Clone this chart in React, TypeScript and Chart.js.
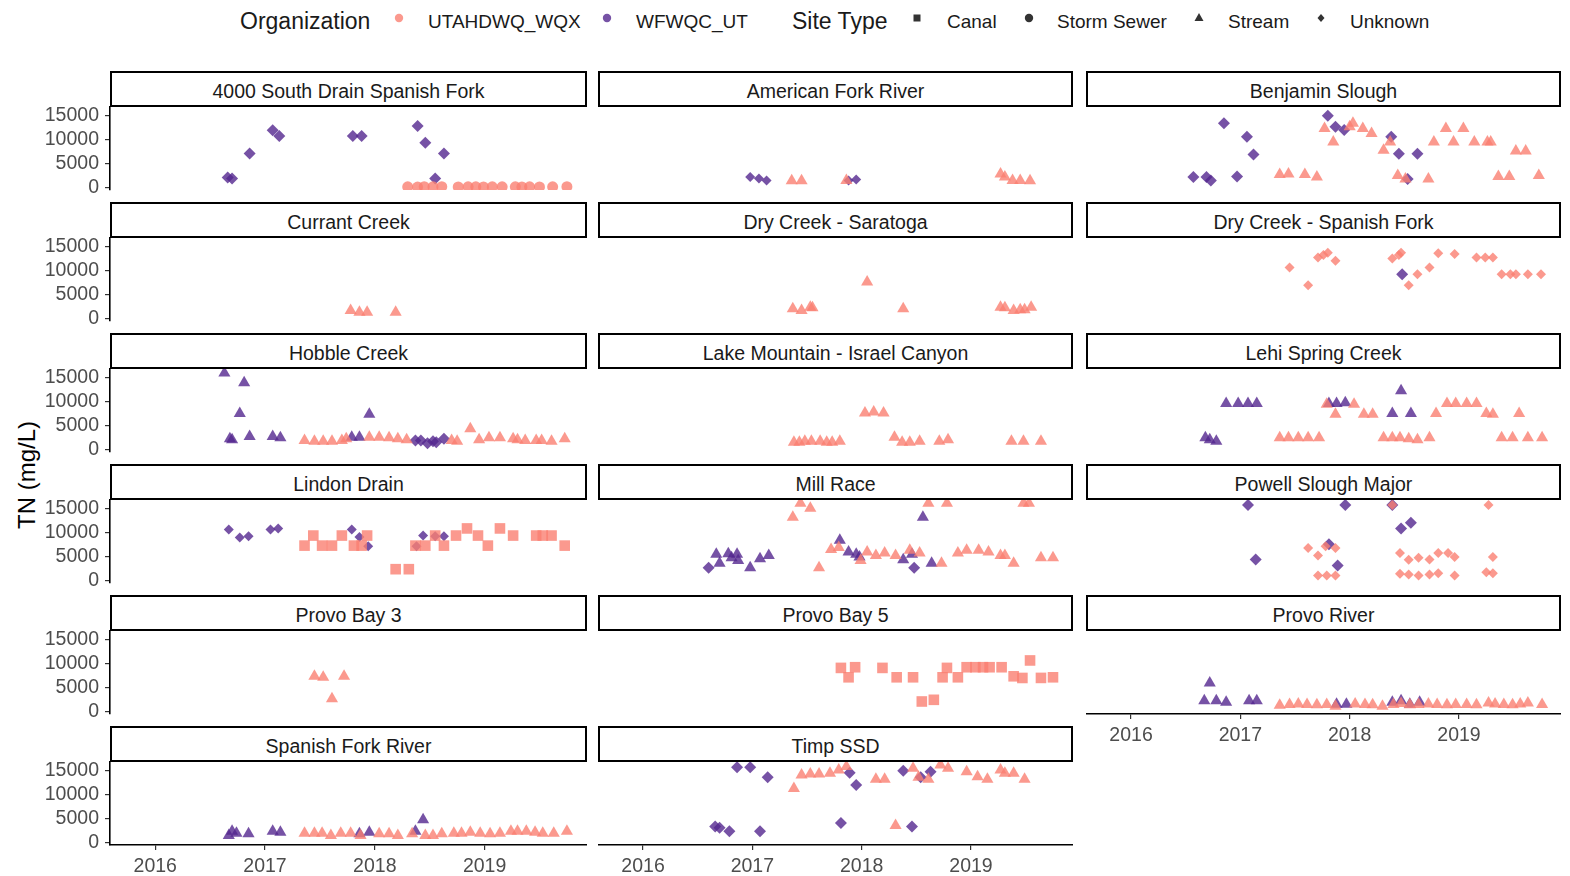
import React, { useEffect, useRef } from "react";
import { Chart, registerables } from "chart.js";

Chart.register(...registerables);

// ---- colours & fonts ----
const SALMON = "rgba(250,128,114,0.8)";
const PURPLE = "rgba(84,39,143,0.8)";
const FONT = "'Liberation Sans', Arial, sans-serif";

// ---- axis settings ----
const X_MIN = 2015.588;
const X_MAX = 2019.933;
const Y_MIN = -500;
const Y_MAX = 16750;
const X_TICKS = [2016, 2017, 2018, 2019];
const Y_TICKS = [0, 5000, 10000, 15000];

type Pt = [number, number]; // [decimal year, TN]

// ---- data: TN (mg/L) by site, organisation and site type ----
const southDrainWf: Pt[] = [
  [2016.66, 2100], [2016.7, 1900], [2016.86, 7100], [2017.07, 11900], [2017.13, 10700],
  [2017.8, 10700], [2017.88, 10700], [2018.39, 12800], [2018.46, 9300], [2018.63, 7100], [2018.55, 1900],
];
const southDrainUt: Pt[] = [
  [2018.3, 150], [2018.39, 120], [2018.45, 180], [2018.53, 150], [2018.61, 200], [2018.76, 130],
  [2018.85, 150], [2018.92, 160], [2018.99, 140], [2019.07, 170], [2019.16, 150], [2019.28, 150],
  [2019.34, 130], [2019.41, 160], [2019.5, 140], [2019.62, 150], [2019.75, 180],
];
const amForkWf: Pt[] = [[2016.98, 2200], [2017.06, 1900], [2017.13, 1500], [2017.88, 1500], [2017.95, 1700]];
const amForkUt: Pt[] = [
  [2017.36, 1400], [2017.45, 1400], [2017.86, 1500], [2019.27, 2800], [2019.31, 2200],
  [2019.38, 1500], [2019.45, 1500], [2019.54, 1400],
];
const benjaminWf: Pt[] = [
  [2016.57, 2200], [2016.69, 2200], [2016.73, 1500], [2016.97, 2300], [2016.85, 13350], [2017.06, 10550],
  [2017.12, 6900], [2017.8, 14950], [2017.87, 12650], [2017.95, 11950], [2018.38, 10550], [2018.45, 7050],
  [2018.62, 7050], [2018.53, 1800],
];
const benjaminUt: Pt[] = [
  [2017.36, 2700], [2017.44, 2850], [2017.59, 2700], [2017.7, 2200], [2017.77, 12300], [2017.85, 9500],
  [2018.0, 12650], [2018.03, 13350], [2018.12, 12300], [2018.2, 11250], [2018.31, 7750], [2018.37, 9500],
  [2018.44, 2500], [2018.51, 1800], [2018.72, 1800], [2018.77, 9500], [2018.88, 12300], [2018.95, 9500],
  [2019.04, 12300], [2019.14, 9500], [2019.26, 9500], [2019.29, 9500], [2019.36, 2300], [2019.46, 2300],
  [2019.52, 7600], [2019.61, 7600], [2019.73, 2500],
];
const currantUt: Pt[] = [[2017.78, 1700], [2017.86, 1300], [2017.93, 1300], [2018.19, 1300]];
const drySaratogaUt: Pt[] = [
  [2017.37, 2030], [2017.45, 1680], [2017.53, 2370], [2017.55, 2240], [2018.05, 7600], [2018.38, 2030],
  [2019.27, 2370], [2019.31, 2240], [2019.39, 1680], [2019.45, 1820], [2019.49, 1820], [2019.55, 2370],
];
const drySpanishUt: Pt[] = [
  [2017.45, 10630], [2017.62, 6920], [2017.71, 12720], [2017.76, 13200], [2017.8, 13700], [2017.87, 12000],
  [2018.39, 12500], [2018.45, 13200], [2018.47, 13700], [2018.54, 6920], [2018.62, 9220], [2018.73, 10630],
  [2018.81, 13560], [2018.96, 13420], [2019.16, 12720], [2019.24, 12720], [2019.31, 12720], [2019.39, 9220],
  [2019.47, 9220], [2019.52, 9220], [2019.63, 9220], [2019.75, 9220],
];
const drySpanishWf: Pt[] = [[2018.48, 9220]];
const hobbleWfStream: Pt[] = [
  [2016.63, 15900], [2016.68, 2240], [2016.7, 2030], [2016.81, 13900], [2016.77, 7480], [2016.86, 2720],
  [2017.07, 2720], [2017.14, 2440], [2017.79, 2580], [2017.86, 2580], [2017.95, 7340],
];
const hobbleWfUnknown: Pt[] = [
  [2018.37, 1890], [2018.42, 1890], [2018.48, 1330], [2018.53, 1750], [2018.56, 1540], [2018.63, 2240],
];
const hobbleUt: Pt[] = [
  [2017.36, 1890], [2017.45, 1750], [2017.53, 1750], [2017.61, 1750], [2017.7, 1890], [2017.74, 2240],
  [2017.95, 2580], [2018.04, 2580], [2018.13, 2440], [2018.21, 2240], [2018.29, 2030], [2018.7, 1890],
  [2018.75, 1750], [2018.87, 4330], [2018.95, 2030], [2019.04, 2440], [2019.14, 2440], [2019.26, 2240],
  [2019.3, 2030], [2019.37, 1890], [2019.47, 1890], [2019.52, 1890], [2019.61, 1750], [2019.73, 2240],
];
const lakeMtnUt: Pt[] = [
  [2017.38, 1540], [2017.43, 1540], [2017.48, 1750], [2017.54, 1750], [2017.62, 1750], [2017.68, 1540],
  [2017.73, 1540], [2017.8, 1750], [2018.03, 7620], [2018.11, 7830], [2018.2, 7620], [2018.3, 2580],
  [2018.37, 1540], [2018.44, 1540], [2018.53, 1750], [2018.71, 1750], [2018.79, 2030], [2019.37, 1750],
  [2019.48, 1750], [2019.64, 1750],
];
const lehiWf: Pt[] = [
  [2016.68, 2450], [2016.72, 2030], [2016.78, 1750], [2016.87, 9580], [2016.98, 9580], [2017.07, 9580],
  [2017.15, 9580], [2017.81, 9580], [2017.88, 9580], [2017.96, 9710], [2018.47, 12230], [2018.39, 7480],
  [2018.56, 7480],
];
const lehiUt: Pt[] = [
  [2017.36, 2450], [2017.44, 2450], [2017.53, 2450], [2017.62, 2450], [2017.72, 2450], [2017.79, 9400],
  [2018.04, 9400], [2017.87, 7340], [2018.13, 7340], [2018.21, 7340], [2018.31, 2450], [2018.39, 2450],
  [2018.46, 2450], [2018.54, 2240], [2018.62, 2030], [2018.73, 2450], [2018.79, 7480], [2018.89, 9580],
  [2018.97, 9580], [2019.07, 9580], [2019.16, 9580], [2019.25, 7480], [2019.31, 7340], [2019.55, 7480],
  [2019.39, 2450], [2019.49, 2450], [2019.63, 2450], [2019.76, 2450],
];
const lindonWf: Pt[] = [
  [2016.67, 10630], [2016.77, 8950], [2016.85, 9220], [2017.05, 10630], [2017.12, 10840], [2017.79, 10630],
  [2017.86, 9080], [2017.94, 7130], [2018.38, 7130], [2018.44, 9360], [2018.55, 9220], [2018.63, 9220],
];
const lindonUt: Pt[] = [
  [2017.36, 7270], [2017.44, 9360], [2017.52, 7270], [2017.61, 7270], [2017.7, 9360], [2017.81, 7270],
  [2017.88, 7270], [2017.93, 9360], [2018.19, 2370], [2018.31, 2370], [2018.37, 7270], [2018.46, 7270],
  [2018.55, 9360], [2018.63, 7270], [2018.74, 9360], [2018.84, 10840], [2018.94, 9360], [2019.03, 7270],
  [2019.14, 10840], [2019.26, 9360], [2019.47, 9360], [2019.53, 9360], [2019.61, 9360], [2019.73, 7270],
];
const millWfStream: Pt[] = [
  [2016.67, 5450], [2016.78, 5590], [2016.86, 5450], [2016.7, 3630], [2016.81, 4760], [2016.87, 4190],
  [2016.98, 2660], [2017.07, 4540], [2017.15, 5240], [2017.8, 8390], [2017.88, 5940], [2017.95, 5450],
  [2017.98, 4890], [2018.38, 4330], [2018.46, 5450], [2018.56, 13140], [2018.64, 3630],
];
const millWfUnknown: Pt[] = [[2016.6, 2660], [2018.48, 2660]];
const millUt: Pt[] = [
  [2017.37, 13140], [2017.44, 16080], [2017.53, 15030], [2017.61, 2660], [2017.72, 6440], [2017.79, 6860],
  [2017.99, 4190], [2018.05, 5940], [2018.13, 5240], [2018.21, 5730], [2018.31, 5240], [2018.44, 6290],
  [2018.53, 5730], [2018.61, 16080], [2018.78, 16080], [2018.73, 3630], [2018.88, 5730], [2018.96, 6290],
  [2019.07, 6290], [2019.16, 5940], [2019.27, 5240], [2019.31, 5240], [2019.39, 3630], [2019.48, 16080],
  [2019.53, 16080], [2019.64, 4760], [2019.75, 4760],
];
const powellWf: Pt[] = [
  [2017.07, 15720], [2017.14, 4400], [2017.81, 7550], [2017.89, 3140], [2017.96, 15720], [2018.39, 15720],
  [2018.47, 10840], [2018.56, 12020],
];
const powellUt: Pt[] = [
  [2017.62, 6780], [2017.71, 5240], [2017.78, 7130], [2017.87, 6780], [2017.71, 1050], [2017.79, 1050],
  [2017.87, 1050], [2018.39, 15720], [2018.46, 5730], [2018.54, 4330], [2018.63, 4760], [2018.73, 4400],
  [2018.81, 5730], [2018.9, 5730], [2018.96, 4890], [2018.46, 1400], [2018.54, 1260], [2018.63, 1050],
  [2018.73, 1260], [2018.81, 1540], [2018.96, 1050], [2019.27, 15720], [2019.31, 4890], [2019.25, 1750],
  [2019.31, 1540],
];
const provoBay3Ut: Pt[] = [[2017.45, 7340], [2017.53, 7130], [2017.61, 2660], [2017.72, 7340]];
const provoBay5Ut: Pt[] = [
  [2017.81, 9080], [2017.88, 7130], [2017.94, 9220], [2018.19, 9080], [2018.32, 7130], [2018.47, 7130],
  [2018.55, 2100], [2018.66, 2450], [2018.74, 7130], [2018.78, 9080], [2018.88, 7130], [2018.96, 9220],
  [2019.04, 9220], [2019.11, 9220], [2019.17, 9220], [2019.28, 9220], [2019.39, 7340], [2019.47, 6990],
  [2019.54, 10630], [2019.64, 7000], [2019.75, 7130],
];
const provoRiverWf: Pt[] = [
  [2016.72, 5940], [2016.67, 2240], [2016.78, 2240], [2016.87, 1960], [2017.08, 2240], [2017.15, 2240],
  [2017.88, 1540], [2017.97, 1540], [2018.39, 1960], [2018.47, 2240], [2018.55, 1540], [2018.64, 1960],
];
const provoRiverUt: Pt[] = [
  [2017.36, 1300], [2017.45, 1500], [2017.53, 1600], [2017.61, 1500], [2017.7, 1400], [2017.79, 1500],
  [2017.87, 1100], [2018.05, 1600], [2018.14, 1500], [2018.21, 1400], [2018.3, 1100], [2018.4, 1500],
  [2018.47, 1700], [2018.55, 1400], [2018.63, 1500], [2018.72, 1600], [2018.8, 1500], [2018.89, 1400],
  [2018.97, 1500], [2019.07, 1500], [2019.16, 1400], [2019.27, 1800], [2019.33, 1600], [2019.41, 1500],
  [2019.49, 1400], [2019.56, 1600], [2019.63, 1800], [2019.76, 1500],
];
const spanishForkWf: Pt[] = [
  [2016.67, 1470], [2016.7, 2380], [2016.74, 1960], [2016.85, 1820], [2017.07, 2380], [2017.14, 2170],
  [2017.86, 1820], [2017.95, 2170], [2018.37, 2380], [2018.44, 4750],
];
const spanishForkUt: Pt[] = [
  [2017.36, 1960], [2017.45, 1960], [2017.52, 1960], [2017.6, 1470], [2017.69, 1960], [2017.78, 1960],
  [2017.87, 1470], [2018.04, 1820], [2018.13, 1820], [2018.21, 1470], [2018.34, 1820], [2018.46, 1470],
  [2018.53, 1470], [2018.61, 1820], [2018.72, 1960], [2018.79, 1960], [2018.87, 2170], [2018.96, 1960],
  [2019.05, 1820], [2019.14, 1960], [2019.24, 2380], [2019.3, 2380], [2019.38, 2380], [2019.46, 2170],
  [2019.53, 1960], [2019.63, 1960], [2019.75, 2380],
];
const timpWf: Pt[] = [
  [2016.86, 15660], [2016.98, 15660], [2017.14, 13560], [2016.66, 3350], [2016.7, 3070], [2016.79, 2380],
  [2017.07, 2380], [2017.81, 4050], [2017.89, 14530], [2017.95, 11950], [2018.38, 14950], [2018.46, 3350],
  [2018.54, 13560], [2018.63, 14740],
];
const timpUt: Pt[] = [
  [2017.38, 11260], [2017.45, 14050], [2017.53, 14250], [2017.61, 14250], [2017.71, 14390], [2017.79, 15090],
  [2017.86, 15790], [2018.13, 13140], [2018.21, 13140], [2018.31, 3560], [2018.47, 15440], [2018.52, 13560],
  [2018.61, 13140], [2018.72, 16140], [2018.79, 15440], [2018.96, 14740], [2019.06, 13700], [2019.15, 13140],
  [2019.27, 15090], [2019.31, 14390], [2019.39, 14390], [2019.49, 13140],
];

// ---- facets ----
// dia = storm-sewer diamond, dsm = smaller "unknown" diamond
type Shape = "tri" | "dia" | "dsm" | "sq" | "cir";
type Org = "ut" | "wf";
interface Series { pts: Pt[]; org: Org; shape: Shape }
interface Facet { name: string; series: Series[] }

const s = (pts: Pt[], org: Org, shape: Shape): Series => ({ pts, org, shape });

const FACETS: Facet[] = [
  { name: "4000 South Drain Spanish Fork", series: [s(southDrainUt, "ut", "cir"), s(southDrainWf, "wf", "dia")] },
  { name: "American Fork River", series: [s(amForkUt, "ut", "tri"), s(amForkWf, "wf", "dsm")] },
  { name: "Benjamin Slough", series: [s(benjaminUt, "ut", "tri"), s(benjaminWf, "wf", "dia")] },
  { name: "Currant Creek", series: [s(currantUt, "ut", "tri")] },
  { name: "Dry Creek - Saratoga", series: [s(drySaratogaUt, "ut", "tri")] },
  { name: "Dry Creek - Spanish Fork", series: [s(drySpanishUt, "ut", "dsm"), s(drySpanishWf, "wf", "dia")] },
  { name: "Hobble Creek", series: [s(hobbleUt, "ut", "tri"), s(hobbleWfStream, "wf", "tri"), s(hobbleWfUnknown, "wf", "dia")] },
  { name: "Lake Mountain - Israel Canyon", series: [s(lakeMtnUt, "ut", "tri")] },
  { name: "Lehi Spring Creek", series: [s(lehiUt, "ut", "tri"), s(lehiWf, "wf", "tri")] },
  { name: "Lindon Drain", series: [s(lindonUt, "ut", "sq"), s(lindonWf, "wf", "dsm")] },
  { name: "Mill Race", series: [s(millUt, "ut", "tri"), s(millWfStream, "wf", "tri"), s(millWfUnknown, "wf", "dia")] },
  { name: "Powell Slough Major", series: [s(powellUt, "ut", "dsm"), s(powellWf, "wf", "dia")] },
  { name: "Provo Bay 3", series: [s(provoBay3Ut, "ut", "tri")] },
  { name: "Provo Bay 5", series: [s(provoBay5Ut, "ut", "sq")] },
  { name: "Provo River", series: [s(provoRiverUt, "ut", "tri"), s(provoRiverWf, "wf", "tri")] },
  { name: "Spanish Fork River", series: [s(spanishForkUt, "ut", "tri"), s(spanishForkWf, "wf", "tri")] },
  { name: "Timp SSD", series: [s(timpUt, "ut", "tri"), s(timpWf, "wf", "dia")] },
];

// ---- grid geometry ----
const COL_LEFT = [110, 598, 1086];
const COL_W = [477, 475, 475];
const ROW_TOP0 = 71;
const ROW_STEP = 131;
const STRIP_H = 36;
const PANEL_H = 83;
const Y_AXIS_W = 110;
const X_AXIS_H = 42;
const V_PAD = 14; // room above/below the panel for y tick labels
const NCOL = 3;

const POINT_STYLE: Record<Shape, string> = { tri: "triangle", dia: "rectRot", dsm: "rectRot", sq: "rect", cir: "circle" };
const POINT_R: Record<Shape, number> = { tri: 7, dia: 6, dsm: 5, sq: 7.5, cir: 5.5 };

function hasPanelBelow(i: number): boolean {
  return i + NCOL < FACETS.length;
}

function Panel({ facet, index }: { facet: Facet; index: number }) {
  const ref = useRef<HTMLCanvasElement>(null);
  const col = index % NCOL;
  const row = Math.floor(index / NCOL);
  const showY = col === 0;
  const showX = !hasPanelBelow(index);
  const padTop = showY ? V_PAD : 0;
  const padBottom = showY && !showX ? V_PAD : 0;
  const left = COL_LEFT[col] - (showY ? Y_AXIS_W : 0);
  const top = ROW_TOP0 + row * ROW_STEP + STRIP_H - padTop;
  const width = COL_W[col] + (showY ? Y_AXIS_W : 0);
  const height = PANEL_H + (showX ? X_AXIS_H : 0) + padTop + padBottom;

  useEffect(() => {
    const tickFont = { family: FONT, size: 19.5 };
    const chart = new Chart(ref.current as HTMLCanvasElement, {
      type: "scatter",
      data: {
        datasets: facet.series.map((se) => ({
          data: se.pts.map(([x, y]) => ({ x, y })),
          pointStyle: POINT_STYLE[se.shape] as any,
          pointRadius: POINT_R[se.shape],
          backgroundColor: se.org === "ut" ? SALMON : PURPLE,
          borderWidth: 0,
          pointBorderWidth: 0,
          clip: 0,
        })),
      },
      options: {
        animation: false,
        responsive: false,
        events: [],
        layout: { padding: { top: padTop, bottom: padBottom, left: 0, right: 0 }, autoPadding: false },
        plugins: { legend: { display: false }, tooltip: { enabled: false }, title: { display: false } },
        scales: {
          x: {
            type: "linear",
            min: X_MIN,
            max: X_MAX,
            display: showX,
            afterBuildTicks: (sc: any) => {
              sc.ticks = X_TICKS.map((v) => ({ value: v }));
            },
            afterFit: (sc: any) => {
              if (showX) sc.height = X_AXIS_H;
              sc.paddingLeft = 0;
              sc.paddingRight = 0;
              sc.paddingTop = 0;
              sc.paddingBottom = 0;
            },
            ticks: {
              callback: (v: any) => String(v),
              color: "#4D4D4D",
              font: tickFont,
              padding: 5,
              maxRotation: 0,
              autoSkip: false,
            },
            grid: { display: true, drawOnChartArea: false, drawTicks: true, tickLength: 5, color: "#333", lineWidth: 1.2 },
            border: { display: true, color: "#000", width: 1.6 },
          },
          y: {
            type: "linear",
            min: Y_MIN,
            max: Y_MAX,
            display: showY,
            afterBuildTicks: (sc: any) => {
              sc.ticks = Y_TICKS.map((v) => ({ value: v }));
            },
            afterFit: (sc: any) => {
              if (showY) sc.width = Y_AXIS_W;
              sc.paddingLeft = 0;
              sc.paddingRight = 0;
              sc.paddingTop = 0;
              sc.paddingBottom = 0;
            },
            ticks: {
              callback: (v: any) => String(v),
              color: "#4D4D4D",
              font: tickFont,
              padding: 6,
              autoSkip: false,
            },
            grid: { display: true, drawOnChartArea: false, drawTicks: true, tickLength: 5, color: "#333", lineWidth: 1.2 },
            border: { display: true, color: "#000", width: 1.6 },
          },
        },
      },
    });
    return () => chart.destroy();
  }, [facet, showX, showY, padTop, padBottom]);

  return (
    <canvas
      ref={ref}
      width={width}
      height={height}
      style={{ position: "absolute", left, top, width, height }}
    />
  );
}

function Strip({ facet, index }: { facet: Facet; index: number }) {
  const col = index % NCOL;
  const row = Math.floor(index / NCOL);
  return (
    <div
      style={{
        position: "absolute",
        left: COL_LEFT[col],
        top: ROW_TOP0 + row * ROW_STEP,
        width: COL_W[col],
        height: STRIP_H,
        boxSizing: "border-box",
        border: "2px solid #000",
        background: "#fff",
        display: "flex",
        alignItems: "center",
        justifyContent: "center",
        paddingTop: 5,
        fontFamily: FONT,
        fontSize: 19.5,
        color: "#1A1A1A",
        whiteSpace: "nowrap",
      }}
    >
      {facet.name}
    </div>
  );
}

// ---- legend ----
const LEGEND_Y = 21;

function Key({ x, kind, color }: { x: number; kind: Shape; color: string }) {
  const sz = 14;
  let shape: React.ReactNode = null;
  if (kind === "cir") shape = <circle cx={7} cy={7} r={4.2} fill={color} />;
  if (kind === "sq") shape = <rect x={3.5} y={3.5} width={7} height={7} fill={color} />;
  if (kind === "tri") shape = <polygon points="7,2 11.5,10 2.5,10" fill={color} />;
  if (kind === "dsm" || kind === "dia") shape = <polygon points="7,3 10.5,7 7,11 3.5,7" fill={color} />;
  return (
    <svg
      width={sz}
      height={sz}
      style={{ position: "absolute", left: x - sz / 2, top: LEGEND_Y - sz / 2 - 3 }}
    >
      {shape}
    </svg>
  );
}

function Label({ x, text, size }: { x: number; text: string; size: number }) {
  return (
    <div
      style={{
        position: "absolute",
        left: x,
        top: LEGEND_Y,
        transform: "translateY(-50%)",
        fontFamily: FONT,
        fontSize: size,
        color: "#1A1A1A",
        whiteSpace: "nowrap",
        lineHeight: 1,
      }}
    >
      {text}
    </div>
  );
}

function Legend() {
  const dark = "#333";
  return (
    <>
      <Label x={240} text="Organization" size={23} />
      <Key x={399} kind="cir" color={SALMON} />
      <Label x={428} text="UTAHDWQ_WQX" size={19} />
      <Key x={607} kind="cir" color={PURPLE} />
      <Label x={636} text="WFWQC_UT" size={19} />
      <Label x={792} text="Site Type" size={23} />
      <Key x={917} kind="sq" color={dark} />
      <Label x={947} text="Canal" size={19} />
      <Key x={1029} kind="cir" color={dark} />
      <Label x={1057} text="Storm Sewer" size={19} />
      <Key x={1199} kind="tri" color={dark} />
      <Label x={1228} text="Stream" size={19} />
      <Key x={1321} kind="dsm" color={dark} />
      <Label x={1350} text="Unknown" size={19} />
    </>
  );
}

export default function App() {
  return (
    <div
      style={{
        position: "absolute",
        left: 0,
        top: 0,
        width: 1570,
        height: 876,
        background: "#fff",
        overflow: "hidden",
      }}
    >
      <Legend />
      <div
        style={{
          position: "absolute",
          left: 27,
          top: 475,
          transform: "translate(-50%, -50%) rotate(-90deg)",
          fontFamily: FONT,
          fontSize: 24,
          color: "#000",
          whiteSpace: "nowrap",
        }}
      >
        TN (mg/L)
      </div>
      {FACETS.map((f, i) => (
        <Panel key={"p" + i} facet={f} index={i} />
      ))}
      {FACETS.map((f, i) => (
        <Strip key={"s" + i} facet={f} index={i} />
      ))}
    </div>
  );
}
